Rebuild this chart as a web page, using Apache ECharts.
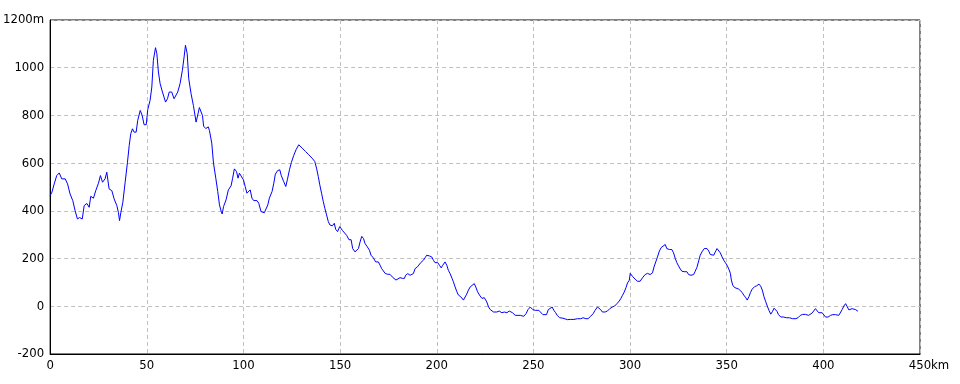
<!DOCTYPE html>
<html>
<head>
<meta charset="utf-8">
<script src="https://cdn.jsdelivr.net/npm/echarts@6/dist/echarts.min.js"></script>
<style>
html,body{margin:0;padding:0;background:#fff;}
#chart{width:960px;height:384px;}
</style>
</head>
<body>
<div id="chart"></div>
<script>
// Distance along the route (km)
const distanceKm = [
0,0.9,2.1,3.4,4.7,6.0,7.8,9.0,10.3,11.7,12.9,14.1,15.2,16.6,17.6,19.0,20.2,21.0,22.4,23.6,25.0,26.0,27.1,28.4,29.3,30.5,31.9,33.1,34.5,35.3,35.9,36.6,37.6,38.8,40.0,40.9,41.7,42.6,43.4,44.5,45.3,46.6,47.6,48.6,49.7,50.5,51.7,52.6,53.4,54.5,55.2,56.0,56.9,58.1,59.7,60.7,61.6,62.9,64.1,65.0,66.0,67.2,68.4,69.3,70.0,70.9,71.7,72.9,74.1,75.5,76.7,77.2,78.0,78.8,79.4,80.5,81.8,82.4,
83.6,84.5,85.7,86.7,87.6,88.5,89.0,89.7,91.0,92.2,93.6,94.4,95.3,96.4,97.2,97.9,98.9,100.0,100.9,101.8,102.6,103.5,104.4,105.3,107.0,107.9,109.1,110.0,110.8,111.7,112.6,113.4,114.8,115.7,116.5,117.7,118.8,119.6,120.8,121.9,122.7,123.8,124.8,126.0,127.2,128.6,130.4,132.1,133.8,135.5,136.9,137.8,138.7,139.5,140.4,141.3,142.1,143.0,143.9,144.7,146.0,147.0,147.7,148.7,149.8,151.2,
151.7,153.4,154.6,155.7,156.5,157.7,158.6,159.5,160.3,161.2,162.1,162.9,164.1,165.2,166.0,167.2,168.4,169.8,170.7,171.5,172.4,173.3,174.6,175.8,177.0,177.9,178.9,179.8,181.0,182.2,183.3,183.9,185.0,186.2,187.1,187.9,188.8,190.0,190.9,191.7,193.1,194.0,194.8,196.2,197.4,198.3,199.1,200.5,201.4,202.3,203.1,204.3,205.2,206.0,206.9,207.9,208.6,209.5,210.4,211.2,212.4,213.8,214.7,215.5,216.4,217.3,218.3,219.4,220.2,221.1,222.1,223.4,224.6,225.0,
225.9,226.8,227.7,229.4,231.1,232.3,233.7,234.9,236.3,237.5,238.4,239.2,240.6,241.5,243.2,245.0,246.2,247.2,248.4,249.7,251.0,252.8,253.7,254.9,255.9,256.8,257.7,258.5,259.7,260.6,261.5,262.3,263.6,265.3,266.4,267.6,269.3,271.0,272.8,274.5,275.7,277.1,278.3,279.7,280.9,281.9,283.1,284.0,284.8,285.7,287.1,288.3,289.5,290.9,292.0,293.2,294.4,295.2,296.1,297.0,297.9,298.7,299.6,
300.1,301.4,302.6,303.8,305.2,306.4,307.8,309.0,310.4,311.6,312.4,313.3,314.2,315.2,316.1,317.1,318.2,319.0,320.4,321.6,322.5,323.4,324.2,325.1,326.0,326.8,328.0,329.4,330.3,331.5,332.9,333.7,334.6,335.5,336.3,337.2,338.4,339.8,340.7,341.5,342.4,343.3,344.1,345.0,345.9,346.7,347.6,348.5,349.3,350.2,351.1,351.9,352.4,353.1,354.0,355.0,356.2,357.1,358.0,358.8,359.7,360.6,361.5,362.3,363.2,364.4,365.5,366.7,367.6,368.4,369.3,370.2,371.0,371.9,372.8,373.6,374.5,375.4,
376.0,376.8,378.0,379.4,380.8,382.4,384.1,385.8,386.9,388.1,389.3,390.7,391.6,392.4,393.3,394.2,395.0,395.9,396.8,397.6,398.5,399.4,400.2,401.1,402.5,403.7,404.9,406.3,407.1,408.0,408.9,409.7,410.6,411.5,412.3,413.2,414.1,414.9,415.8,416.7,417.9
];
// Elevation (m)
const elevationM = [
464,478,513,548,559,534,534,513,471,443,401,366,372,366,422,431,415,461,453,485,516,548,520,534,562,492,485,450,422,394,359,394,436,520,604,674,723,744,730,730,779,821,800,761,761,825,863,919,1031,1084,1059,982,933,898,856,870,898,898,870,863,898,933,989,1045,1094,1059,954,891,842,772,814,833,840,800,755,745,752,737,
684,600,537,481,425,397,387,418,446,488,505,537,576,565,537,558,558,530,502,474,467,488,453,443,443,432,397,404,392,397,425,453,481,516,554,569,572,547,523,502,530,572,603,632,656,677,663,649,635,621,607,579,544,509,474,439,411,383,355,341,337,348,323,313,334,318,
311,297,279,279,242,228,221,242,269,293,284,263,249,235,214,203,186,186,172,158,151,138,134,134,123,128,110,113,120,117,117,130,137,130,123,137,158,165,172,183,193,204,214,211,207,193,183,183,172,161,172,186,172,151,137,117,103,81,61,47,40,26,33,51,68,81,88,95,81,61,47,33,36,39,
18,-3,-14,-24,-24,-20,-27,-24,-27,-20,-17,-27,-38,-38,-38,-42,-31,-14,-3,-14,-17,-17,-24,-35,-41,-35,-14,-7,-3,-17,-27,-38,-48,-50,-53,-56,-55,-55,-52,-52,-48,-52,-52,-41,-31,-17,-3,4,-14,-24,-24,-20,-10,-3,1,11,22,32,46,60,78,98,109,
138,124,114,105,105,119,133,138,133,140,165,186,207,232,246,253,259,242,238,238,224,200,183,169,156,147,145,145,133,130,133,147,163,190,214,228,242,242,232,217,214,214,228,242,235,224,207,193,183,172,156,138,110,89,79,75,72,72,58,47,38,26,40,58,72,82,86,93,84,68,40,19,1,-18,-33,-23,-8,0,
-21,-35,-45,-45,-48,-48,-52,-52,-48,-38,-34,-34,-34,-38,-31,-28,-21,-10,-15,-27,-21,-27,-35,-45,-45,-38,-35,-35,-41,-38,-31,-14,1,11,11,-15,-15,-10,-7,-14,-21
];
// Axis ranges and tick units
const xRange = [0, 450, 50];
const yRange = [-200, 1200, 200];
const xUnit = 'km';
const yUnit = 'm';

const points = distanceKm.map((d, i) => [d, elevationM[i]]);
const FONT = '"Liberation Sans Narrow", "DejaVu Sans Condensed", "Noto Sans", sans-serif';

const chart = echarts.init(document.getElementById('chart'), null, {renderer: 'canvas'});
chart.setOption({
  animation: false,
  backgroundColor: '#ffffff',
  grid: {left: 50, right: 40, top: 20, bottom: 30, show: true, borderColor: '#000', borderWidth: 1, containLabel: false},
  xAxis: {
    type: 'value', min: xRange[0], max: xRange[1], interval: xRange[2],
    name: xUnit, nameLocation: 'end', nameGap: 11, nameMoveOverlap: false,
    nameTextStyle: {color: '#000', fontFamily: FONT, fontSize: 13, align: 'left', verticalAlign: 'top', padding: [5, 0, 0, 0]},
    axisLine: {show: true, onZero: false, lineStyle: {color: '#000', width: 1}},
    axisTick: {show: false},
    splitLine: {show: true, lineStyle: {color: '#c0c0c0', type: [4, 3], width: 1}},
    axisLabel: {
      color: '#000', fontFamily: FONT, fontSize: 13, margin: 5,
      formatter: v => String(v)
    }
  },
  yAxis: {
    type: 'value', min: yRange[0], max: yRange[1], interval: yRange[2],
    axisLine: {show: true, onZero: false, lineStyle: {color: '#000', width: 1}},
    axisTick: {show: false},
    splitLine: {show: true, lineStyle: {color: '#c0c0c0', type: [4, 3], width: 1}},
    axisLabel: {
      color: '#000', fontFamily: FONT, fontSize: 13, margin: 6,
      formatter: v => v === yRange[1] ? v + yUnit : String(v)
    }
  },
  series: [{
    type: 'line',
    data: points,
    showSymbol: false,
    symbol: 'none',
    lineStyle: {color: '#0000ff', width: 1},
    itemStyle: {color: '#0000ff'},
    z: 3
  }]
});
</script>
</body>
</html>
